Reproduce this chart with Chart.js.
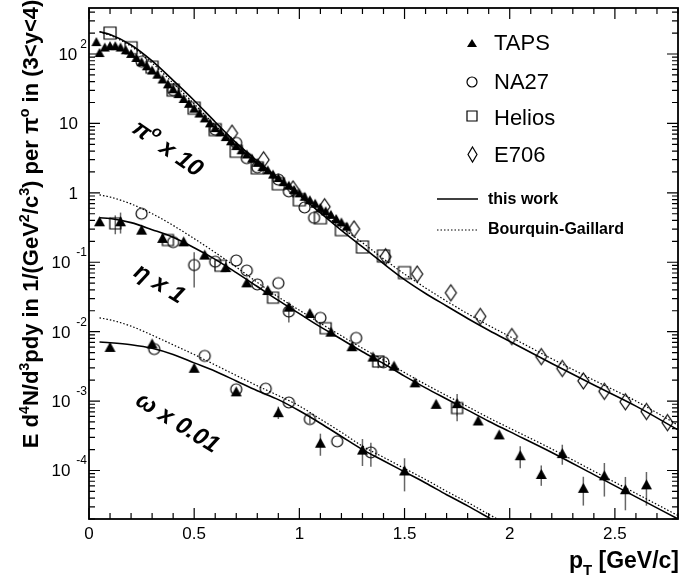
<!DOCTYPE html>
<html>
<head>
<meta charset="utf-8">
<script src="https://cdn.jsdelivr.net/npm/chart.js@4.4.1/dist/chart.umd.min.js"></script>
<style>
html, body { margin: 0; padding: 0; background: #fff; }
#wrap { width: 696px; height: 578px; }
</style>
</head>
<body>
<div id="wrap"><canvas id="spectra" width="696" height="578"></canvas></div>
<script>
// ===== data (pT in GeV/c, yields as plotted incl. scale factor) =====

// pi0 x 10
const tapsPi0Pt = [0.035, 0.05, 0.075, 0.1, 0.125, 0.15, 0.175, 0.2, 0.225, 0.25, 0.275, 0.3, 0.325, 0.35, 0.375, 0.4,
    0.425, 0.45, 0.475, 0.5, 0.525, 0.55, 0.575, 0.6, 0.625, 0.65, 0.675, 0.7, 0.725, 0.75, 0.775, 0.8,
    0.825, 0.85, 0.875, 0.9, 0.925, 0.95, 0.975, 1.0, 1.025, 1.05, 1.075, 1.1, 1.125, 1.15, 1.175, 1.2, 1.225];
const tapsPi0Val = [151, 105, 126, 132, 132, 126, 115, 102, 89.1, 77.6, 67.6, 58.9, 51.3, 43.7, 37.2, 31.6,
    26.9, 22.9, 19.5, 16.6, 14.1, 12.0, 10.2, 8.71, 7.59, 6.46, 5.62, 4.79, 4.17, 3.63, 3.16, 2.75,
    2.40, 2.14, 1.86, 1.66, 1.45, 1.29, 1.12, 1.00, 0.891, 0.794, 0.708, 0.617, 0.550, 0.490, 0.427, 0.380, 0.331];

const na27Pi0Pt = [0.25, 0.4, 0.6, 0.7, 0.75, 0.8, 0.9, 0.95, 1.025, 1.07];
const na27Pi0Val = [77.6, 30.2, 8.13, 5.25, 3.16, 2.34, 1.55, 1.05, 0.617, 0.437];

const heliosPi0Pt = [0.1, 0.2, 0.3, 0.4, 0.5, 0.6, 0.7, 0.8, 0.9, 1.0, 1.1, 1.2, 1.3, 1.4, 1.5];
const heliosPi0Val = [200, 123, 64.6, 30.2, 16.6, 8.13, 3.98, 2.29, 1.35, 0.794, 0.437, 0.295, 0.166, 0.123, 0.0708];

const e706Pt = [0.68, 0.83, 0.97, 1.12, 1.26, 1.41, 1.56, 1.72, 1.86, 2.01, 2.15, 2.25, 2.35, 2.45, 2.55, 2.65, 2.75];
const e706Val = [7.24, 2.99, 1.14, 0.631, 0.302, 0.120, 0.0676, 0.0363, 0.0166, 0.00851, 0.00437, 0.00295,
    0.00195, 0.00138, 9.77e-4, 7.08e-4, 4.90e-4];

// eta x 1
const tapsEtaPt = [0.05, 0.15, 0.25, 0.35, 0.45, 0.55, 0.65, 0.75, 0.85, 0.95, 1.05, 1.15, 1.25, 1.35,
    1.45, 1.55, 1.65, 1.75, 1.85, 1.95, 2.05, 2.15, 2.25, 2.35, 2.45, 2.55, 2.65];
const tapsEtaVal = [0.389, 0.389, 0.295, 0.224, 0.200, 0.129, 0.0851, 0.0513, 0.0398, 0.0229, 0.0186, 0.0100, 0.00617, 0.00437,
    0.00324, 0.00186, 9.12e-4, 9.33e-4, 5.25e-4, 3.31e-4, 1.66e-4, 8.91e-5, 1.78e-4, 5.62e-5, 8.51e-5, 5.37e-5, 6.31e-5];
const tapsEtaErr = [0, 0.13, 0, 0.02, 0, 0, 0, 0, 0, 0, 0, 0, 0, 0,
    0, 0, 0, 3.3e-4, 0, 0, 5.8e-5, 2.9e-5, 5.7e-5, 2.5e-5, 4.3e-5, 2.7e-5, 3.2e-5];

const na27EtaPt = [0.25, 0.4, 0.5, 0.6, 0.7, 0.75, 0.8, 0.9, 0.95, 1.1, 1.27, 1.4];
const na27EtaVal = [0.501, 0.195, 0.0912, 0.102, 0.106, 0.0759, 0.0479, 0.0501, 0.0195, 0.0158, 0.00813, 0.00363];
const na27EtaErr = [0, 0, 0.048, 0, 0, 0, 0, 0, 0.006, 0, 0, 5.4e-4];

const heliosEtaPt = [0.125, 0.375, 0.625, 0.875, 1.125, 1.375, 1.75];
const heliosEtaVal = [0.363, 0.209, 0.0891, 0.0309, 0.0112, 0.00372, 7.94e-4];
const heliosEtaErr = [0.11, 0, 0, 0, 0, 7.4e-4, 2.8e-4];

// omega x 0.01
const tapsOmegaPt = [0.1, 0.3, 0.5, 0.7, 0.9, 1.1, 1.3, 1.5];
const tapsOmegaVal = [0.00603, 0.00676, 0.00302, 0.00138, 6.92e-4, 2.51e-4, 2.00e-4, 1.00e-4];
const tapsOmegaErr = [6e-4, 0, 0, 0, 1.4e-4, 8.8e-5, 8.4e-5, 5.0e-5];

const na27OmegaPt = [0.31, 0.55, 0.70, 0.84, 0.95, 1.05, 1.18, 1.34];
const na27OmegaVal = [0.00562, 0.00447, 0.00148, 0.00151, 9.55e-4, 5.50e-4, 2.63e-4, 1.82e-4];
const na27OmegaErr = [0, 0, 0, 0, 0, 8e-5, 0, 6.9e-5];

// curves: this work (solid) / Bourquin-Gaillard (dotted)
const curvePt = [0.05, 0.1, 0.2, 0.3, 0.4, 0.5, 0.6, 0.7, 0.8, 0.9, 1.0, 1.1, 1.2, 1.3, 1.4, 1.5, 1.6, 1.7, 1.8, 1.9,
    2.0, 2.2, 2.4, 2.6, 2.8];
const pi0Fit = [209, 191, 135, 79.4, 41.7, 21.4, 10.5, 5.25, 2.88, 1.62, 0.933, 0.513, 0.288, 0.166, 0.0955, 0.0562,
    0.0355, 0.0234, 0.0155, 0.0105, 0.00724, 0.00347, 0.00170, 8.45e-4, 3.85e-4];
const pi0BG = [209, 186, 129, 74.1, 38.0, 19.1, 9.33, 4.79, 2.63, 1.51, 0.912, 0.537, 0.316, 0.191, 0.112, 0.0676,
    0.0427, 0.0275, 0.0182, 0.0123, 0.00851, 0.00407, 0.00200, 0.00100, 4.50e-4];
const etaFit = [0.437, 0.427, 0.372, 0.295, 0.229, 0.162, 0.110, 0.0708, 0.0447, 0.0282, 0.0182, 0.0117, 0.00776, 0.00513,
    0.00347, 0.00229, 0.00155, 0.00107, 7.41e-4, 5.13e-4, 3.63e-4, 1.82e-4, 8.71e-5, 4.17e-5, 2.00e-5];
const etaBG = [0.933, 0.871, 0.692, 0.501, 0.339, 0.219, 0.138, 0.0851, 0.0513, 0.0316, 0.0204, 0.0132, 0.00871, 0.00575,
    0.00389, 0.00257, 0.00174, 0.00120, 8.32e-4, 5.75e-4, 4.07e-4, 2.04e-4, 9.77e-5, 4.68e-5, 2.24e-5];

const omegaCurvePt = [0.05, 0.1, 0.2, 0.3, 0.4, 0.5, 0.6, 0.7, 0.8, 0.9, 1.0, 1.1, 1.2, 1.3, 1.4, 1.5, 1.6, 1.7, 1.8, 1.9, 2.0];
const omegaFit = [0.00708, 0.00692, 0.00646, 0.00575, 0.00468, 0.00355, 0.00269, 0.00195, 0.00141, 0.00105, 7.24e-4,
    4.79e-4, 3.09e-4, 2.00e-4, 1.38e-4, 9.55e-5, 6.61e-5, 4.47e-5, 3.09e-5, 2.09e-5, 1.41e-5];
const omegaBG = [0.0158, 0.0148, 0.0120, 0.00891, 0.00646, 0.00468, 0.00331, 0.00234, 0.00166, 0.00120, 8.51e-4,
    5.50e-4, 3.55e-4, 2.24e-4, 1.55e-4, 1.07e-4, 7.41e-5, 5.01e-5, 3.47e-5, 2.34e-5, 1.58e-5];

// axis ticks
const xTickLabels = ['0', '0.5', '1', '1.5', '2', '2.5'];
const yDecades = [-4, -3, -2, -1, 0, 1, 2];

const FONT = '"Liberation Sans", Arial, Helvetica, sans-serif';

// ===== markers (ROOT style) =====
function makeMarker(kind, w, h) {
    const c = document.createElement('canvas');
    c.width = Math.ceil(w) + 4;
    c.height = Math.ceil(h) + 4;
    const g = c.getContext('2d');
    const cx = c.width / 2, cy = c.height / 2;
    g.strokeStyle = '#000';
    g.fillStyle = '#000';
    g.lineWidth = 1.2;
    g.beginPath();
    if (kind === 'triangle') {
        g.moveTo(cx, cy - h / 2);
        g.lineTo(cx + w / 2, cy + h / 2);
        g.lineTo(cx - w / 2, cy + h / 2);
        g.closePath();
        g.fill();
    } else if (kind === 'circle') {
        g.arc(cx, cy, w / 2, 0, Math.PI * 2);
        g.stroke();
    } else if (kind === 'square') {
        g.rect(cx - w / 2, cy - h / 2, w, h);
        g.stroke();
    } else {
        g.moveTo(cx, cy - h / 2);
        g.lineTo(cx + w / 2, cy);
        g.lineTo(cx, cy + h / 2);
        g.lineTo(cx - w / 2, cy);
        g.closePath();
        g.stroke();
    }
    return c;
}

const mTriSmall = makeMarker('triangle', 10, 9);
const mTri = makeMarker('triangle', 11, 10);
const mCircle = makeMarker('circle', 11, 11);
const mSquareBig = makeMarker('square', 12, 12);
const mSquare = makeMarker('square', 11, 11);
const mDiamond = makeMarker('diamond', 11, 16);

const legTri = makeMarker('triangle', 10, 8);
const legCircle = makeMarker('circle', 10, 10);
const legSquare = makeMarker('square', 10, 10);
const legDiamond = makeMarker('diamond', 9, 15);

function pts(xs, ys) {
    return xs.map((x, i) => ({ x: x, y: ys[i] }));
}

function markerSet(label, xs, ys, marker) {
    return { label: label, data: pts(xs, ys), pointStyle: marker, pointRadius: 5, showLine: false, clip: false, order: 2 };
}

function curveSet(label, xs, ys, dotted) {
    return {
        label: label,
        data: pts(xs, ys),
        showLine: true,
        borderColor: '#000',
        borderWidth: dotted ? 1.2 : 1.6,
        borderDash: dotted ? [1.5, 2] : [],
        pointRadius: 0,
        cubicInterpolationMode: 'monotone',
        clip: 0,
        order: 1
    };
}

const errorSeries = [
    { pt: tapsEtaPt, val: tapsEtaVal, err: tapsEtaErr },
    { pt: na27EtaPt, val: na27EtaVal, err: na27EtaErr },
    { pt: heliosEtaPt, val: heliosEtaVal, err: heliosEtaErr },
    { pt: tapsOmegaPt, val: tapsOmegaVal, err: tapsOmegaErr },
    { pt: na27OmegaPt, val: na27OmegaVal, err: na27OmegaErr }
];

// ===== text helpers =====
function richWidth(ctx, parts, size, style) {
    let w = 0;
    parts.forEach(([t, kind]) => {
        ctx.font = style + ' ' + (kind ? size * 0.65 : size) + 'px ' + FONT;
        w += ctx.measureText(t).width;
    });
    return w;
}

function drawRich(ctx, parts, x, y, size, style, align) {
    const total = richWidth(ctx, parts, size, style);
    let cx = align === 'center' ? x - total / 2 : (align === 'right' ? x - total : x);
    ctx.textAlign = 'left';
    ctx.textBaseline = 'alphabetic';
    parts.forEach(([t, kind]) => {
        ctx.font = style + ' ' + (kind ? size * 0.65 : size) + 'px ' + FONT;
        const dy = kind === 1 ? -size * 0.42 : (kind === 2 ? size * 0.3 : 0);
        ctx.fillText(t, cx, y + dy);
        cx += ctx.measureText(t).width;
    });
}

// ===== frame, ticks, labels, legend =====
const overlayPlugin = {
    id: 'overlay',
    beforeDatasetsDraw(chart) {
        const { ctx, chartArea: a, scales: { x, y } } = chart;
        ctx.save();
        ctx.beginPath();
        ctx.rect(a.left, a.top, a.right - a.left, a.bottom - a.top);
        ctx.clip();
        ctx.strokeStyle = '#666';
        ctx.lineWidth = 1.5;
        errorSeries.forEach(s => {
            s.pt.forEach((p, i) => {
                const e = s.err[i];
                if (!e) return;
                const v = s.val[i];
                const px = x.getPixelForValue(p);
                ctx.beginPath();
                ctx.moveTo(px, y.getPixelForValue(v + e));
                ctx.lineTo(px, y.getPixelForValue(Math.max(v - e, 1e-9)));
                ctx.stroke();
            });
        });
        ctx.restore();
    },
    afterDraw(chart) {
        const { ctx, chartArea: a, scales: { x, y } } = chart;
        ctx.save();
        ctx.fillStyle = '#000';
        ctx.strokeStyle = '#000';

        // frame
        ctx.lineWidth = 1.8;
        ctx.strokeRect(a.left, a.top, a.right - a.left, a.bottom - a.top);

        // x ticks (inward, bottom and top)
        ctx.lineWidth = 1.2;
        ctx.beginPath();
        for (let i = 0; i <= 28; i++) {
            const px = x.getPixelForValue(i / 10);
            const len = i % 5 === 0 ? 11 : 6;
            ctx.moveTo(px, a.bottom);
            ctx.lineTo(px, a.bottom - len);
            ctx.moveTo(px, a.top);
            ctx.lineTo(px, a.top + len);
        }
        // y ticks (log, left and right)
        for (let d = -5; d <= 2; d++) {
            for (let m = 1; m <= 9; m++) {
                const v = m * Math.pow(10, d);
                if (v < y.min || v > y.max) continue;
                const py = y.getPixelForValue(v);
                const len = m === 1 ? 11 : 6;
                ctx.moveTo(a.left, py);
                ctx.lineTo(a.left + len, py);
                ctx.moveTo(a.right, py);
                ctx.lineTo(a.right - len, py);
            }
        }
        ctx.stroke();

        // x tick labels
        ctx.font = '17px ' + FONT;
        ctx.textAlign = 'center';
        ctx.textBaseline = 'alphabetic';
        xTickLabels.forEach((t, i) => {
            ctx.fillText(t, x.getPixelForValue(i * 0.5), 539);
        });

        // y tick labels
        yDecades.forEach(d => {
            const py = y.getPixelForValue(Math.pow(10, d));
            if (d === 0 || d === 1) {
                ctx.font = '17px ' + FONT;
                ctx.textAlign = 'right';
                ctx.fillText(d === 0 ? '1' : '10', 78, py + 6);
                return;
            }
            const exp = d < 0 ? '-' + (-d) : String(d);
            ctx.font = '12px ' + FONT;
            ctx.textAlign = 'right';
            ctx.fillText(exp, 87, py - 6);
            const ew = ctx.measureText(exp).width;
            ctx.font = '17px ' + FONT;
            ctx.fillText('10', 87 - ew - (d < 0 ? 6 : 3), py + 6);
        });

        // axis titles
        drawRich(ctx, [['p', 0], ['T', 2], [' [GeV/c]', 0]], 679, 568, 23, 'bold', 'right');

        ctx.save();
        ctx.translate(38, 224);
        ctx.rotate(-Math.PI / 2);
        drawRich(ctx, [['E d', 0], ['4', 1], ['N/d', 0], ['3', 1], ['pdy in 1/(GeV', 0], ['2', 1], ['/c', 0], ['3', 1],
            [') per ', 0], ['\u03c0', 0], ['o', 1], [' in (3<y<4)', 0]], 0, 0, 22, 'bold', 'center');
        ctx.restore();

        // species labels
        const species = [
            { parts: [['\u03c0', 0], ['o', 1], [' x 10', 0]], cx: 168, cy: 148, rot: 35 },
            { parts: [['\u03b7 x 1', 0]], cx: 160, cy: 283, rot: 32 },
            { parts: [['\u03c9 x 0.01', 0]], cx: 178, cy: 422, rot: 32 }
        ];
        species.forEach(s => {
            ctx.save();
            ctx.translate(s.cx, s.cy);
            ctx.rotate(s.rot * Math.PI / 180);
            drawRich(ctx, s.parts, 0, 8, 24, 'italic bold', 'center');
            ctx.restore();
        });

        // legend
        const legendRows = [
            { img: legTri, text: 'TAPS', cy: 43, base: 50 },
            { img: legCircle, text: 'NA27', cy: 82, base: 89 },
            { img: legSquare, text: 'Helios', cy: 116, base: 125 },
            { img: legDiamond, text: 'E706', cy: 154, base: 162 }
        ];
        ctx.font = '22px ' + FONT;
        ctx.textAlign = 'left';
        legendRows.forEach(r => {
            ctx.drawImage(r.img, Math.round(472 - r.img.width / 2), Math.round(r.cy - r.img.height / 2));
            ctx.fillText(r.text, 494, r.base);
        });

        ctx.lineWidth = 1.6;
        ctx.beginPath();
        ctx.moveTo(437, 199);
        ctx.lineTo(478, 199);
        ctx.stroke();
        ctx.lineWidth = 1.2;
        ctx.setLineDash([1.5, 2]);
        ctx.beginPath();
        ctx.moveTo(437, 230);
        ctx.lineTo(478, 230);
        ctx.stroke();
        ctx.setLineDash([]);
        ctx.font = 'bold 16px ' + FONT;
        ctx.fillText('this work', 488, 204);
        ctx.fillText('Bourquin-Gaillard', 488, 234);

        ctx.restore();
    }
};

// ===== chart =====
new Chart(document.getElementById('spectra'), {
    type: 'scatter',
    data: {
        datasets: [
            curveSet('pi0 this work', curvePt, pi0Fit, false),
            curveSet('pi0 Bourquin-Gaillard', curvePt, pi0BG, true),
            curveSet('eta this work', curvePt, etaFit, false),
            curveSet('eta Bourquin-Gaillard', curvePt, etaBG, true),
            curveSet('omega this work', omegaCurvePt, omegaFit, false),
            curveSet('omega Bourquin-Gaillard', omegaCurvePt, omegaBG, true),
            markerSet('TAPS pi0', tapsPi0Pt, tapsPi0Val, mTriSmall),
            markerSet('NA27 pi0', na27Pi0Pt, na27Pi0Val, mCircle),
            markerSet('Helios pi0', heliosPi0Pt, heliosPi0Val, mSquareBig),
            markerSet('E706 pi0', e706Pt, e706Val, mDiamond),
            markerSet('TAPS eta', tapsEtaPt, tapsEtaVal, mTri),
            markerSet('NA27 eta', na27EtaPt, na27EtaVal, mCircle),
            markerSet('Helios eta', heliosEtaPt, heliosEtaVal, mSquare),
            markerSet('TAPS omega', tapsOmegaPt, tapsOmegaVal, mTri),
            markerSet('NA27 omega', na27OmegaPt, na27OmegaVal, mCircle)
        ]
    },
    options: {
        responsive: false,
        animation: false,
        events: [],
        layout: { padding: { left: 89, right: 18, top: 8, bottom: 59 } },
        plugins: { legend: { display: false }, tooltip: { enabled: false } },
        scales: {
            x: { type: 'linear', min: 0, max: 2.8, display: false },
            y: { type: 'logarithmic', min: 2e-5, max: 460, display: false }
        }
    },
    plugins: [overlayPlugin]
});
</script>
</body>
</html>
